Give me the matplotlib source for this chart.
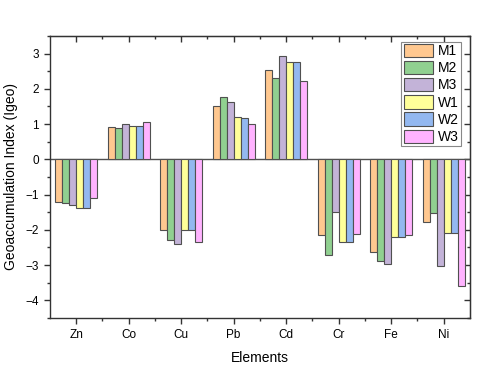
import numpy as np
import matplotlib
matplotlib.use('Agg')
from matplotlib import pyplot as plt

plt.rcParams['font.family'] = ['Liberation Sans', 'DejaVu Sans']

elements = ['Zn', 'Co', 'Cu', 'Pb', 'Cd', 'Cr', 'Fe', 'Ni']
series = ['M1', 'M2', 'M3', 'W1', 'W2', 'W3']
M1 = [-1.20, 0.93, -1.99, 1.52, 2.54, -2.14, -2.63, -1.78]
M2 = [-1.24, 0.89, -2.29, 1.78, 2.30, -2.70, -2.87, -1.52]
M3 = [-1.29, 1.00, -2.40, 1.62, 2.94, -1.50, -2.98, -3.03]
W1 = [-1.37, 0.95, -2.01, 1.19, 2.77, -2.35, -2.20, -2.09]
W2 = [-1.37, 0.95, -2.01, 1.17, 2.77, -2.35, -2.20, -2.09]
W3 = [-1.09, 1.06, -2.33, 1.00, 2.23, -2.11, -2.14, -3.60]
colors = ['#ffc890', '#90d090', '#c3b3d8', '#ffff99', '#93b8f0', '#ffb3ff']

data = [M1, M2, M3, W1, W2, W3]
x = np.arange(len(elements))
w = 0.8 / 6
ymaj = np.arange(-4, 4)
ymin = np.arange(-4.5, 3.6, 1.0)

fig = plt.figure(figsize=(4.8, 3.67), dpi=100)
ax = fig.add_axes([0.104, 0.1335, 0.875, 0.7685])

for i in range(6):
    ax.bar(x - 0.4 + w * (i + 0.5), data[i], w, color=colors[i],
           edgecolor='#505050', linewidth=0.8, label=series[i], zorder=3)

ax.axhline(0, color='#505050', linewidth=1.0, zorder=2)
ax.set_xlim(-0.5, 7.5)
ax.set_ylim(-4.5, 3.5)
ax.set_xticks(x)
ax.set_xticklabels(elements)
ax.set_xticks(x[:-1] + 0.5, minor=True)
ax.set_yticks(ymaj)
ax.set_yticklabels([str(v).replace('-', '\u2212') for v in ymaj])
ax.set_yticks(ymin, minor=True)

ax.tick_params(axis='both', which='major', labelsize=8.5, length=4, width=1, color='#333333', pad=4)
ax.tick_params(axis='both', which='minor', length=2.5, width=1, color='#333333')
ax.tick_params(which='both', direction='out', top=False, right=False)

ax2 = ax.secondary_xaxis('top')
ax2.set_xticks(x)
ax2.set_xticks(x[:-1] + 0.5, minor=True)
ax2.tick_params(which='major', direction='in', length=4, width=1, labeltop=False, color='#333333')
ax2.tick_params(which='minor', direction='in', length=2.5, width=1, color='#333333')
ax3 = ax.secondary_yaxis('right')
ax3.set_yticks(ymaj)
ax3.set_yticks(ymin, minor=True)
ax3.tick_params(which='major', direction='in', length=4, width=1, labelright=False, color='#333333')
ax3.tick_params(which='minor', direction='in', length=2.5, width=1, color='#333333')

for s in ax.spines.values():
    s.set_linewidth(1.0)
    s.set_color('#333333')

ax.set_xlabel('Elements', fontsize=10, labelpad=7)
ax.set_ylabel('Geoaccumulation Index (Igeo)', fontsize=10, labelpad=5)

leg = ax.legend(loc='upper right', bbox_to_anchor=(0.978, 0.98), fontsize=10,
                handlelength=2.15, handleheight=1.1, labelspacing=0.2,
                handletextpad=0.3, borderpad=0.15, borderaxespad=0,
                fancybox=False, edgecolor='#888888', framealpha=1)
leg.get_frame().set_linewidth(0.8)

plt.savefig('out.png', dpi=100)
